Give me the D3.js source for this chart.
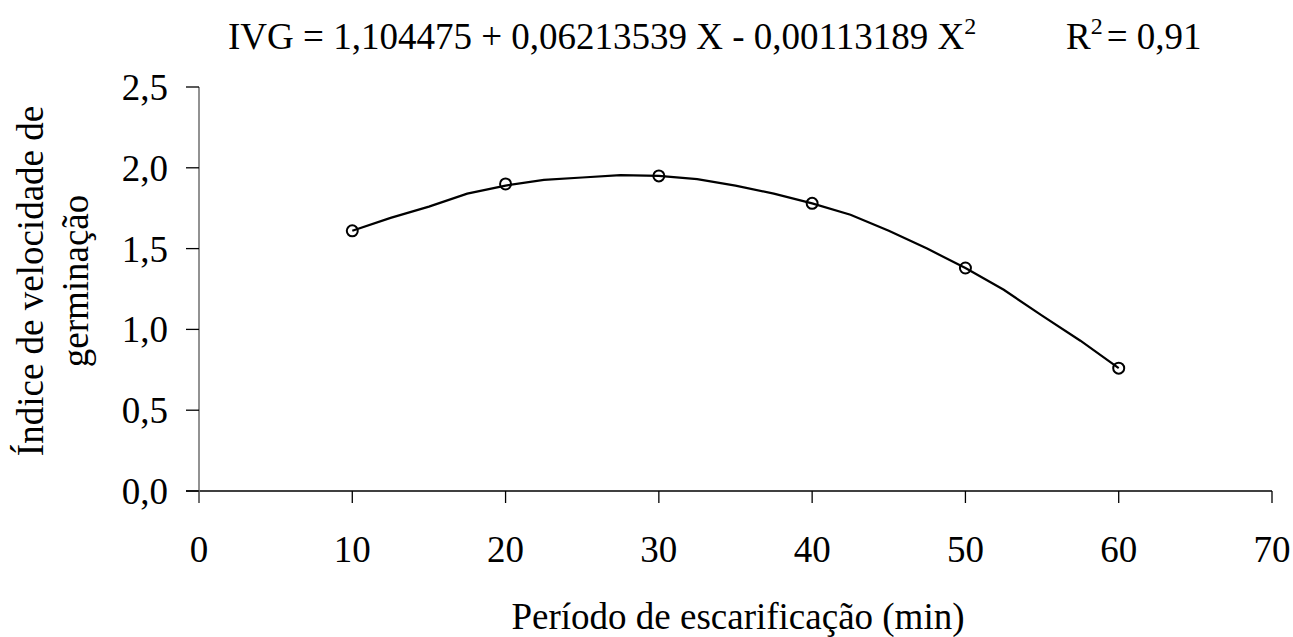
<!doctype html>
<html>
<head>
  <meta charset="utf-8">
  <script src="https://d3js.org/d3.v7.min.js"></script>
</head>
<body style="margin:0; background:white">
  <svg width="1293" height="637"></svg>
  <script>
    // observed means
    var periodo = [10, 20, 30, 40, 50, 60];
    var ivg = [1.61, 1.90, 1.95, 1.78, 1.38, 0.76];

    // fitted curve (every 2,5 min)
    var curvaX = [10, 12.5, 15, 17.5, 20, 22.5, 25, 27.5, 30, 32.5, 35, 37.5, 40, 42.5, 45, 47.5, 50, 52.5, 55, 57.5, 60];
    var curvaY = [1.61, 1.69, 1.76, 1.84, 1.89, 1.925, 1.94, 1.955, 1.95, 1.93, 1.89, 1.84, 1.78, 1.71, 1.61, 1.50, 1.38, 1.245, 1.085, 0.93, 0.76];

    var xTicks = [0, 10, 20, 30, 40, 50, 60, 70];
    var yTicks = [0, 0.5, 1.0, 1.5, 2.0, 2.5];

    var svg = d3.select("svg");

    // every text gets the serif face explicitly
    function label(sel, size) {
      return sel.style("font-family", "Liberation Serif, Times New Roman, serif")
        .style("font-size", size + "px").attr("fill", "black");
    }

    var x = d3.scaleLinear().domain([0, 70]).range([199, 1272]);
    var y = d3.scaleLinear().domain([0, 2.5]).range([491, 87]);
    var fmt = d => d3.format(".1f")(d).replace(".", ",");

    // x axis
    var gx = svg.append("g").attr("transform", "translate(0,491)");
    gx.append("line").attr("x1", 186).attr("x2", x(70)).attr("stroke", "black").attr("stroke-width", 1.3);
    gx.selectAll(".tick").data(xTicks).enter().append("line")
      .attr("x1", d => x(d)).attr("x2", d => x(d)).attr("y1", 0).attr("y2", 12)
      .attr("stroke", "black").attr("stroke-width", 1.3);
    label(gx.selectAll(".lbl").data(xTicks).enter().append("text"), 37)
      .attr("x", d => x(d)).attr("y", 71)
      .attr("text-anchor", "middle")
      .text(d => d);

    // y axis
    var gy = svg.append("g");
    gy.append("line").attr("x1", x(0)).attr("x2", x(0)).attr("y1", y(2.5)).attr("y2", 503)
      .attr("stroke", "#777").attr("stroke-width", 1.6);
    gy.selectAll(".tick").data(yTicks).enter().append("line")
      .attr("x1", 186).attr("x2", x(0)).attr("y1", d => y(d)).attr("y2", d => y(d))
      .attr("stroke", "black").attr("stroke-width", 1.3);
    label(gy.selectAll(".lbl").data(yTicks).enter().append("text"), 37)
      .attr("x", 168).attr("y", d => y(d)).attr("dy", "0.35em")
      .attr("text-anchor", "end")
      .text(fmt);

    // curve
    var line = d3.line().x(d => x(d[0])).y(d => y(d[1]));
    svg.append("path")
      .datum(d3.zip(curvaX, curvaY))
      .attr("d", line)
      .attr("fill", "none").attr("stroke", "black").attr("stroke-width", 2.2);

    // points
    svg.selectAll("circle").data(d3.zip(periodo, ivg)).enter().append("circle")
      .attr("cx", d => x(d[0])).attr("cy", d => y(d[1])).attr("r", 5.5)
      .attr("fill", "none").attr("stroke", "black").attr("stroke-width", 2);

    // title
    var t = label(svg.append("text"), 37).attr("x", 228).attr("y", 49);
    t.append("tspan").text("IVG = 1,104475 + 0,06213539 X - 0,00113189 X");
    t.append("tspan").attr("dy", -15).style("font-size", "24px").text("2");
    var r = label(svg.append("text"), 37).attr("x", 1066).attr("y", 49);
    r.append("tspan").text("R");
    r.append("tspan").attr("dy", -15).style("font-size", "24px").text("2");
    r.append("tspan").attr("dy", 15).attr("dx", 4).text("= 0,91");

    // axis titles
    label(svg.append("text"), 37).attr("x", 738).attr("y", 629).attr("text-anchor", "middle")
      .text("Período de escarificação (min)");
    var yl = label(svg.append("text"), 37).attr("transform", "translate(0,281) rotate(-90)")
      .attr("text-anchor", "middle");
    yl.append("tspan").attr("x", 0).attr("y", 43).text("Índice de velocidade de");
    yl.append("tspan").attr("x", 0).attr("y", 88).text("germinação");
  </script>
</body>
</html>
